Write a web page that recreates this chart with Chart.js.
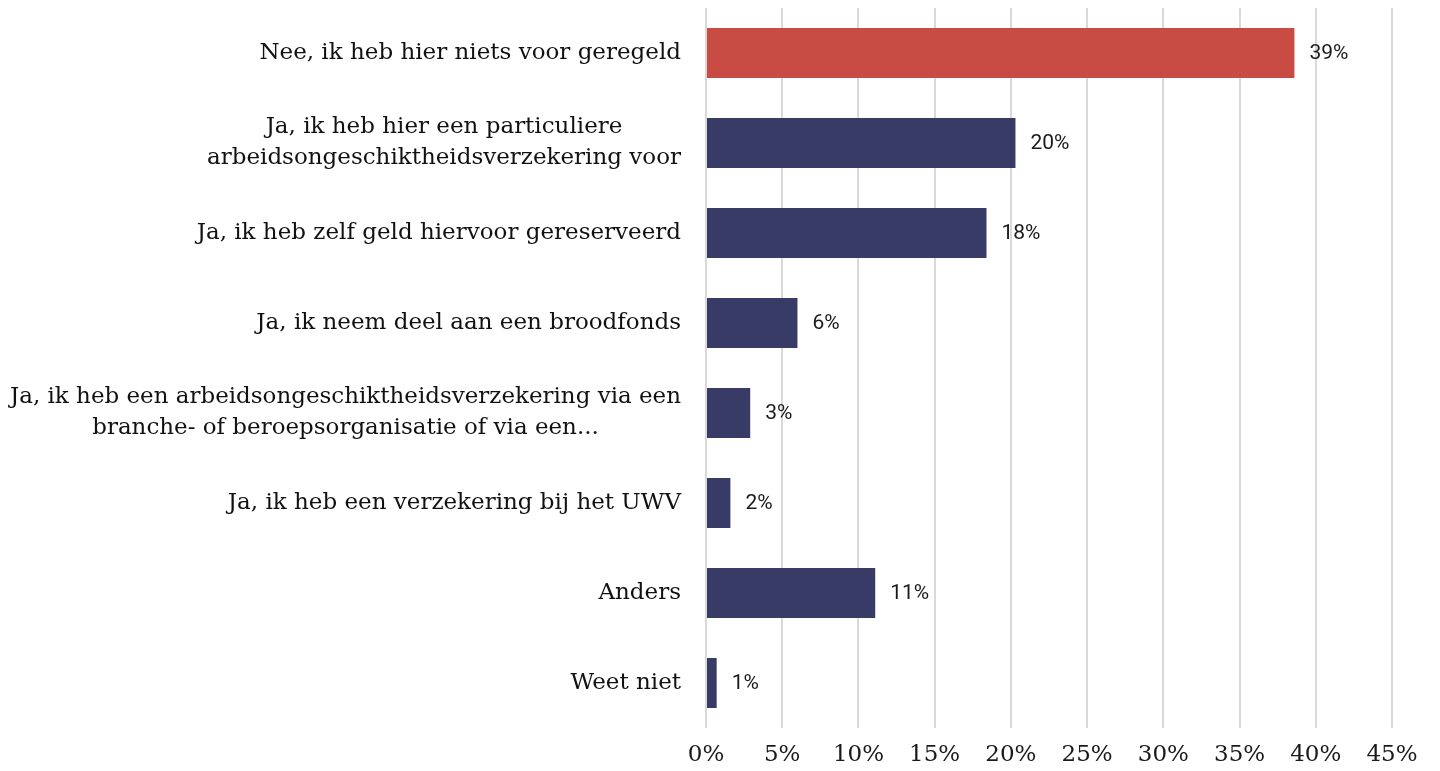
<!DOCTYPE html>
<html>
<head>
<meta charset="utf-8">
<script src="https://cdn.jsdelivr.net/npm/chart.js@4/dist/chart.umd.min.js"></script>
<style>
  html, body { margin: 0; padding: 0; background: #ffffff; }
  #wrap { width: 1440px; height: 771px; position: relative; }
</style>
</head>
<body>
<div id="wrap"><canvas id="c"></canvas></div>
<script>
// ---- data ----
const categories = [
  ["Nee, ik heb hier niets voor geregeld"],
  ["Ja, ik heb hier een particuliere", "arbeidsongeschiktheidsverzekering voor"],
  ["Ja, ik heb zelf geld hiervoor gereserveerd"],
  ["Ja, ik neem deel aan een broodfonds"],
  ["Ja, ik heb een arbeidsongeschiktheidsverzekering via een", "branche- of beroepsorganisatie of via een..."],
  ["Ja, ik heb een verzekering bij het UWV"],
  ["Anders"],
  ["Weet niet"]
];
const values = [38.6, 20.3, 18.4, 6.0, 2.9, 1.6, 11.1, 0.7];
const highlightIndex = [0];
const xTicksMax = 45;
const xTickStep = 5;

const RED = '#C94C44';
const NAVY = '#383B66';
const SERIF = '"DejaVu Serif", "Liberation Serif", serif';

const yLabelPlugin = {
  id: 'yLabels',
  afterDraw(chart) {
    const ctx = chart.ctx;
    const y = chart.scales.y;
    const rightX = y.right - 25;
    const leftLimit = 10;
    const avail = rightX - leftLimit;
    const lineH = 31;
    ctx.save();
    ctx.font = '23px ' + SERIF;
    ctx.fillStyle = '#111111';
    ctx.textBaseline = 'middle';
    ctx.textAlign = 'center';
    categories.forEach((lines, i) => {
      const cy = y.getPixelForValue(i);
      const widths = lines.map(l => ctx.measureText(l).width);
      const widest = Math.max(...widths);
      const sx = Math.min(1, avail / widest);
      const blockW = widest * sx;
      const cx = rightX - blockW / 2;
      lines.forEach((l, k) => {
        const ly = cy + (k - (lines.length - 1) / 2) * lineH;
        ctx.save();
        ctx.translate(cx, ly);
        ctx.scale(sx, 1);
        ctx.fillText(l, 0, 0);
        ctx.restore();
      });
    });
    ctx.restore();
  }
};

const valueLabelPlugin = {
  id: 'valueLabels',
  afterDatasetsDraw(chart) {
    const ctx = chart.ctx;
    const meta = chart.getDatasetMeta(0);
    ctx.save();
    ctx.font = '21px Roboto, "Noto Sans", sans-serif';
    ctx.fillStyle = '#1a1a1a';
    ctx.textAlign = 'left';
    ctx.textBaseline = 'middle';
    meta.data.forEach((bar, i) => {
      ctx.fillText(Math.round(values[i]) + '%', bar.x + 15, bar.y + 1);
    });
    ctx.restore();
  }
};

new Chart(document.getElementById('c'), {
  type: 'bar',
  data: {
    labels: categories,
    datasets: [{
      data: values,
      backgroundColor: values.map((v, i) => highlightIndex.includes(i) ? RED : NAVY),
      borderWidth: 0,
      barPercentage: 0.556,
      categoryPercentage: 1.0
    }]
  },
  options: {
    indexAxis: 'y',
    responsive: true,
    maintainAspectRatio: false,
    animation: false,
    layout: { padding: { top: 8, right: 48, left: 0, bottom: 0 } },
    plugins: {
      legend: { display: false },
      tooltip: { enabled: false },
      title: { display: false }
    },
    scales: {
      x: {
        min: 0,
        max: xTicksMax,
        ticks: {
          stepSize: xTickStep,
          callback: v => v + '%',
          font: { family: SERIF, size: 23 },
          color: '#1a1a1a',
          padding: 13,
          maxRotation: 0
        },
        grid: { color: '#d9d9d9', lineWidth: 2, drawTicks: false },
        border: { display: false },
        afterFit: s => { s.height = 43; }
      },
      y: {
        ticks: { display: false },
        grid: { display: false },
        border: { display: false },
        afterFit: s => { s.width = 706; }
      }
    }
  },
  plugins: [yLabelPlugin, valueLabelPlugin]
});
</script>
</body>
</html>
